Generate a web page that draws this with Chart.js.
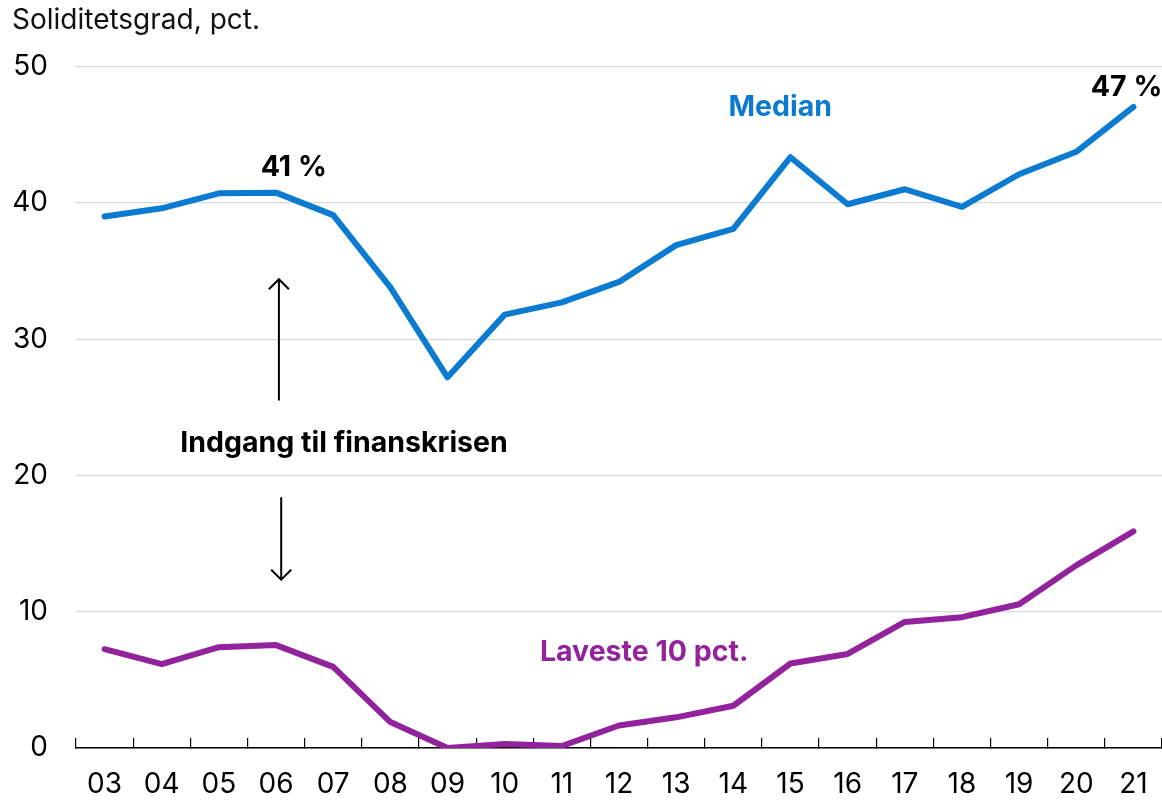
<!DOCTYPE html>
<html>
<head>
<meta charset="utf-8">
<script src="https://cdn.jsdelivr.net/npm/chart.js@4.4.1/dist/chart.umd.min.js"></script>
<style>
html,body{margin:0;padding:0;background:#fff;}
#wrap{width:1162px;height:800px;position:relative;}
</style>
</head>
<body>
<div id="wrap"><canvas id="c" width="1162" height="800"></canvas></div>
<script>
const years = ['03','04','05','06','07','08','09','10','11','12','13','14','15','16','17','18','19','20','21'];
const median = [39.0,39.6,40.7,40.75,39.1,33.8,27.2,31.8,32.7,34.2,36.9,38.1,43.35,39.9,41.0,39.7,42.1,43.75,47.05];
const laveste = [7.25,6.15,7.4,7.55,5.95,1.9,0.0,0.3,0.15,1.65,2.25,3.1,6.2,6.9,9.25,9.6,10.55,13.4,15.9];
const yTicks = [0,10,20,30,40,50];
const titleText = 'Soliditetsgrad, pct.';
const FONT = 'Inter';
const BLUE = '#0A7BD1';
const PURPLE = '#92239C';

// annotations: [text, xIndex, yValue, color]
const labels = [
  ['Median', 11.82, 47.0, BLUE],
  ['47 %', 17.88, 48.5, '#000'],
  ['41 %', 3.31, 42.6, '#000'],
  ['Laveste 10 pct.', 9.44, 7.0, PURPLE],
  ['Indgang til finanskrisen', 4.19, 22.35, '#000']
];
// arrows: [xIndex, fromValue, toValue]
const arrows = [
  [3.05, 25.5, 34.4],
  [3.09, 18.4, 12.35]
];

const annot = {
  id: 'annot',
  afterDatasetsDraw(chart) {
    const ctx = chart.ctx, xs = chart.scales.x, ys = chart.scales.y;
    const px = i => xs.getPixelForValue(0) + i * (xs.getPixelForValue(1) - xs.getPixelForValue(0));
    ctx.save();
    ctx.textAlign = 'center';
    ctx.textBaseline = 'middle';
    ctx.font = 'bold 28.5px ' + FONT;
    labels.forEach(([t, xi, yv, col]) => {
      ctx.fillStyle = col;
      ctx.fillText(t, px(xi), ys.getPixelForValue(yv));
    });
    ctx.strokeStyle = '#000';
    ctx.lineWidth = 2;
    arrows.forEach(([xi, a, b]) => {
      const x = px(xi), y1 = ys.getPixelForValue(a), y2 = ys.getPixelForValue(b);
      const d = y2 > y1 ? -1 : 1;
      ctx.beginPath();
      ctx.moveTo(x, y1); ctx.lineTo(x, y2);
      ctx.moveTo(x - 10, y2 + d * 10); ctx.lineTo(x, y2); ctx.lineTo(x + 10, y2 + d * 10);
      ctx.stroke();
    });
    ctx.restore();
  }
};

new Chart(document.getElementById('c'), {
  type: 'line',
  data: {
    labels: years,
    datasets: [
      {data: median, borderColor: BLUE, borderWidth: 6, pointRadius: 0, borderCapStyle: 'round', borderJoinStyle: 'round', tension: 0},
      {data: laveste, borderColor: PURPLE, borderWidth: 6, pointRadius: 0, borderCapStyle: 'round', borderJoinStyle: 'round', tension: 0}
    ]
  },
  options: {
    responsive: false,
    animation: false,
    events: [],
    layout: {padding: {left: 12, right: 0, top: 0, bottom: 0}},
    plugins: {
      legend: {display: false},
      tooltip: {enabled: false},
      title: {
        display: true, text: titleText, align: 'start', color: '#111',
        font: {family: FONT, size: 28, weight: 'normal'},
        padding: {top: 4, bottom: 29}
      }
    },
    scales: {
      x: {
        offset: true,
        afterFit: s => { s.height = 52; s.paddingLeft = 0; s.paddingRight = 0; },
        grid: {offset: true, drawOnChartArea: false, drawTicks: true, tickLength: -10, color: '#000', lineWidth: 1.2},
        border: {display: true, color: '#000', width: 1.5},
        ticks: {color: '#000', font: {family: FONT, size: 28}, padding: 30, maxRotation: 0, autoSkip: false}
      },
      y: {
        min: 0, max: 50,
        afterBuildTicks: s => { s.ticks = yTicks.map(v => ({value: v})); },
        afterFit: s => { s.width = 64; },
        grid: {color: '#d9d9d9', lineWidth: 1.3, drawTicks: false},
        border: {display: false},
        ticks: {color: '#000', font: {family: FONT, size: 28}, padding: 28}
      }
    }
  },
  plugins: [annot]
});
</script>
</body>
</html>
